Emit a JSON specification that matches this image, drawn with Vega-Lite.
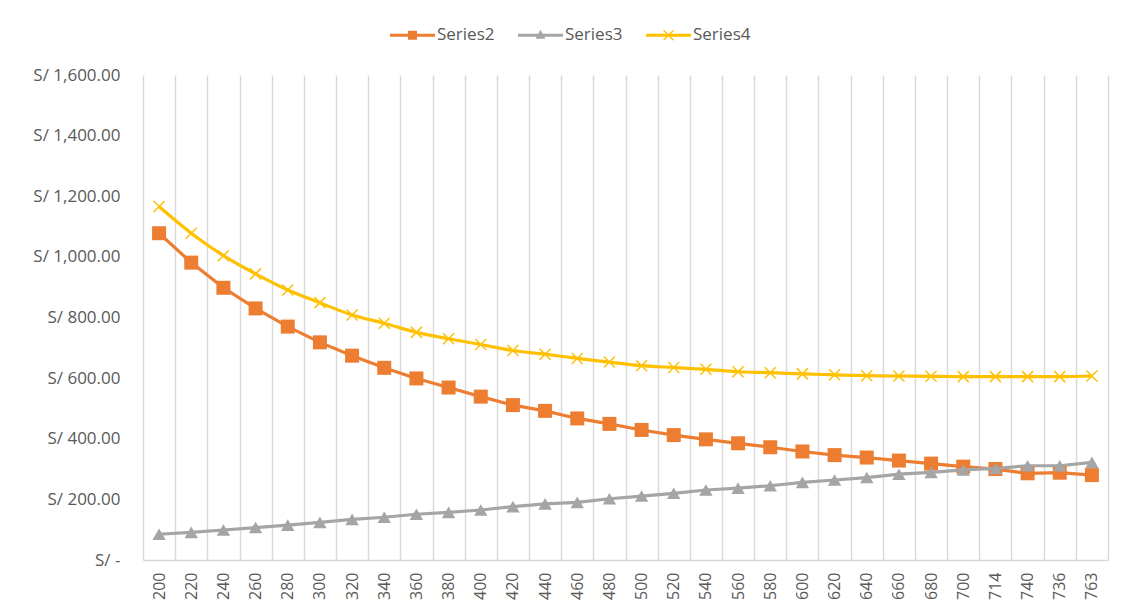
{
  "$schema": "https://vega.github.io/schema/vega-lite/v6.json",
  "width": 965,
  "height": 485,
  "autosize": "none",
  "padding": {"left": 143, "top": 75, "right": 22, "bottom": 49},
  "background": "white",
  "config": {
    "view": {"stroke": null},
    "font": "Open Sans"
  },
  "data": {"values": [
    {"x": "200", "series": "Series2", "value": 1078},
    {"x": "220", "series": "Series2", "value": 981},
    {"x": "240", "series": "Series2", "value": 898},
    {"x": "260", "series": "Series2", "value": 830},
    {"x": "280", "series": "Series2", "value": 770},
    {"x": "300", "series": "Series2", "value": 718},
    {"x": "320", "series": "Series2", "value": 674},
    {"x": "340", "series": "Series2", "value": 634},
    {"x": "360", "series": "Series2", "value": 599},
    {"x": "380", "series": "Series2", "value": 569},
    {"x": "400", "series": "Series2", "value": 539},
    {"x": "420", "series": "Series2", "value": 511},
    {"x": "440", "series": "Series2", "value": 492},
    {"x": "460", "series": "Series2", "value": 467},
    {"x": "480", "series": "Series2", "value": 449},
    {"x": "500", "series": "Series2", "value": 429},
    {"x": "520", "series": "Series2", "value": 412},
    {"x": "540", "series": "Series2", "value": 398},
    {"x": "560", "series": "Series2", "value": 385},
    {"x": "580", "series": "Series2", "value": 372},
    {"x": "600", "series": "Series2", "value": 358},
    {"x": "620", "series": "Series2", "value": 346},
    {"x": "640", "series": "Series2", "value": 338},
    {"x": "660", "series": "Series2", "value": 328},
    {"x": "680", "series": "Series2", "value": 318},
    {"x": "700", "series": "Series2", "value": 308},
    {"x": "714", "series": "Series2", "value": 300},
    {"x": "740", "series": "Series2", "value": 286},
    {"x": "736", "series": "Series2", "value": 288},
    {"x": "763", "series": "Series2", "value": 280},
    {"x": "200", "series": "Series3", "value": 85},
    {"x": "220", "series": "Series3", "value": 91},
    {"x": "240", "series": "Series3", "value": 99},
    {"x": "260", "series": "Series3", "value": 107},
    {"x": "280", "series": "Series3", "value": 115},
    {"x": "300", "series": "Series3", "value": 124},
    {"x": "320", "series": "Series3", "value": 134},
    {"x": "340", "series": "Series3", "value": 141},
    {"x": "360", "series": "Series3", "value": 151},
    {"x": "380", "series": "Series3", "value": 157},
    {"x": "400", "series": "Series3", "value": 165},
    {"x": "420", "series": "Series3", "value": 176},
    {"x": "440", "series": "Series3", "value": 185},
    {"x": "460", "series": "Series3", "value": 190},
    {"x": "480", "series": "Series3", "value": 202},
    {"x": "500", "series": "Series3", "value": 211},
    {"x": "520", "series": "Series3", "value": 220},
    {"x": "540", "series": "Series3", "value": 231},
    {"x": "560", "series": "Series3", "value": 237},
    {"x": "580", "series": "Series3", "value": 245},
    {"x": "600", "series": "Series3", "value": 256},
    {"x": "620", "series": "Series3", "value": 264},
    {"x": "640", "series": "Series3", "value": 272},
    {"x": "660", "series": "Series3", "value": 283},
    {"x": "680", "series": "Series3", "value": 289},
    {"x": "700", "series": "Series3", "value": 297},
    {"x": "714", "series": "Series3", "value": 302},
    {"x": "740", "series": "Series3", "value": 311},
    {"x": "736", "series": "Series3", "value": 311},
    {"x": "763", "series": "Series3", "value": 322},
    {"x": "200", "series": "Series4", "value": 1166},
    {"x": "220", "series": "Series4", "value": 1078},
    {"x": "240", "series": "Series4", "value": 1004},
    {"x": "260", "series": "Series4", "value": 944},
    {"x": "280", "series": "Series4", "value": 891},
    {"x": "300", "series": "Series4", "value": 849},
    {"x": "320", "series": "Series4", "value": 808},
    {"x": "340", "series": "Series4", "value": 781},
    {"x": "360", "series": "Series4", "value": 751},
    {"x": "380", "series": "Series4", "value": 730},
    {"x": "400", "series": "Series4", "value": 711},
    {"x": "420", "series": "Series4", "value": 691},
    {"x": "440", "series": "Series4", "value": 679},
    {"x": "460", "series": "Series4", "value": 665},
    {"x": "480", "series": "Series4", "value": 653},
    {"x": "500", "series": "Series4", "value": 641},
    {"x": "520", "series": "Series4", "value": 635},
    {"x": "540", "series": "Series4", "value": 629},
    {"x": "560", "series": "Series4", "value": 621},
    {"x": "580", "series": "Series4", "value": 618},
    {"x": "600", "series": "Series4", "value": 614},
    {"x": "620", "series": "Series4", "value": 611},
    {"x": "640", "series": "Series4", "value": 608},
    {"x": "660", "series": "Series4", "value": 607},
    {"x": "680", "series": "Series4", "value": 606},
    {"x": "700", "series": "Series4", "value": 605},
    {"x": "714", "series": "Series4", "value": 605},
    {"x": "740", "series": "Series4", "value": 605},
    {"x": "736", "series": "Series4", "value": 605},
    {"x": "763", "series": "Series4", "value": 607}
  ]},
  "encoding": {
    "x": {
      "field": "x",
      "type": "nominal",
      "sort": null,
      "scale": {"type": "band", "paddingInner": 0, "paddingOuter": 0},
      "axis": {
        "title": null,
        "labelAngle": 270,
        "labelFontSize": 16,
        "labelColor": "#595959",
        "labelPadding": 12,
        "ticks": false,
        "tickBand": "extent",
        "grid": true,
        "gridColor": "#d9d9d9",
        "gridWidth": 1.5,
        "domain": true,
        "domainColor": "#d9d9d9",
        "domainWidth": 1.5
      }
    },
    "y": {
      "field": "value",
      "type": "quantitative",
      "scale": {"domain": [0, 1600], "nice": false},
      "axis": {
        "title": null,
        "values": [0, 200, 400, 600, 800, 1000, 1200, 1400, 1600],
        "labelExpr": "datum.value == 0 ? 'S/ -\u00a0\u00a0\u00a0' : 'S/ ' + format(datum.value, ',.2f')",
        "labelFontSize": 17,
        "labelColor": "#595959",
        "labelPadding": 23,
        "ticks": false,
        "domain": false,
        "grid": false
      }
    }
  },
  "layer": [
    {
      "transform": [{"filter": "datum.series == 'Series2'"}],
      "mark": {"type": "line", "color": "#ED7D31", "strokeWidth": 3.2}
    },
    {
      "transform": [{"filter": "datum.series == 'Series2'"}],
      "mark": {"type": "point", "shape": "square", "filled": true, "size": 196, "color": "#ED7D31", "opacity": 1}
    },
    {
      "transform": [{"filter": "datum.series == 'Series3'"}],
      "mark": {"type": "line", "color": "#A5A5A5", "strokeWidth": 3.2}
    },
    {
      "transform": [{"filter": "datum.series == 'Series3'"}],
      "mark": {"type": "point", "shape": "triangle-up", "filled": true, "size": 180, "color": "#A5A5A5", "opacity": 1}
    },
    {
      "transform": [{"filter": "datum.series == 'Series4'"}],
      "mark": {"type": "line", "color": "#FFC000", "strokeWidth": 3.2, "interpolate": "monotone"}
    },
    {
      "transform": [{"filter": "datum.series == 'Series4'"}],
      "mark": {"type": "point", "shape": "M-1,-1L1,1M1,-1L-1,1", "filled": false, "size": 121, "strokeWidth": 1.5, "color": "#FFC000", "opacity": 1}
    },
    {
      "transform": [{"filter": "false"}],
      "mark": {"type": "point", "filled": true, "opacity": 1},
      "encoding": {
        "color": {
          "field": "series",
          "type": "nominal",
          "scale": {"domain": ["Series2", "Series3", "Series4"], "range": ["#ED7D31", "#A5A5A5", "#FFC000"]},
          "legend": {
            "title": null,
            "orient": "none",
            "direction": "horizontal",
            "legendX": 247,
            "legendY": -62.5,
            "padding": 0,
            "symbolSize": 2025,
            "symbolStrokeWidth": 0,
            "symbolOpacity": 1,
            "labelFontSize": 17,
            "labelColor": "#595959",
            "labelOffset": 2,
            "columnPadding": 23,
            "labelLimit": 200
          }
        },
        "shape": {
          "field": "series",
          "type": "nominal",
          "scale": {"domain": ["Series2", "Series3", "Series4"], "range": [
            "M-1,-0.067H1V0.067H-1ZM-0.2,-0.2H0.2V0.2H-0.2Z",
            "M-1,-0.067H1V0.067H-1ZM0,-0.24L0.22,0.15L-0.22,0.15Z",
            "M-1,-0.067H1V0.067H-1ZM-0.24,-0.2L-0.2,-0.24L0.24,0.2L0.2,0.24ZM0.2,-0.24L0.24,-0.2L-0.2,0.24L-0.24,0.2Z"
          ]},
          "legend": {
            "title": null,
            "orient": "none",
            "direction": "horizontal",
            "legendX": 247,
            "legendY": -62.5,
            "padding": 0,
            "symbolSize": 2025,
            "symbolStrokeWidth": 0,
            "symbolOpacity": 1,
            "labelFontSize": 17,
            "labelColor": "#595959",
            "labelOffset": 2,
            "columnPadding": 23,
            "labelLimit": 200
          }
        }
      }
    }
  ]
}
